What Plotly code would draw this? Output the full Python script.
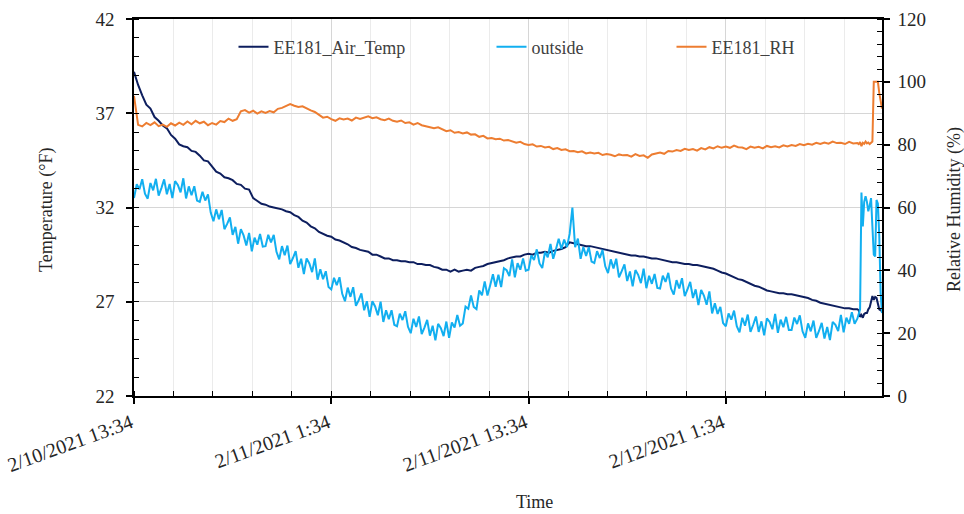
import pandas as pd
import plotly.graph_objects as go

# Logger sample times: 15-minute records, then 5-minute records for the last 1.5 h
times = list(pd.date_range("2021-02-10 13:34", periods=177, freq="15min")) + \
        list(pd.date_range("2021-02-12 09:39", periods=18, freq="5min"))
# Outside sensor: 10-minute records, then 5-minute records for the last 1.5 h
times_out = list(pd.date_range("2021-02-10 13:34", periods=264, freq="10min")) + \
            list(pd.date_range("2021-02-12 09:34", periods=19, freq="5min"))

# EE181 air temperature (°F)
air_temp = [
    39.2, 38.5, 37.95, 37.45, 37.25, 36.8, 36.6, 36.35, 36.2, 35.85, 35.65, 35.35,
    35.25, 35.2, 35.0, 34.95, 34.75, 34.5, 34.45, 34.15, 33.9, 33.8, 33.6, 33.55,
    33.45, 33.25, 33.2, 33.0, 32.95, 32.5, 32.35, 32.2, 32.15, 32.05, 32.0, 31.95,
    31.9, 31.8, 31.75, 31.6, 31.5, 31.3, 31.2, 31.0, 30.9, 30.7, 30.6, 30.5,
    30.45, 30.3, 30.25, 30.15, 30.05, 29.9, 29.85, 29.75, 29.7, 29.65, 29.5, 29.5,
    29.4, 29.3, 29.3, 29.2, 29.2, 29.15, 29.15, 29.1, 29.1, 29.0, 29.0, 28.95,
    28.95, 28.85, 28.8, 28.7, 28.7, 28.6, 28.7, 28.6, 28.65, 28.7, 28.65, 28.8,
    28.85, 28.9, 29.0, 29.05, 29.1, 29.15, 29.2, 29.3, 29.35, 29.4, 29.4, 29.5,
    29.55, 29.5, 29.6, 29.6, 29.65, 29.6, 29.7, 29.75, 29.8, 29.9, 30.15, 30.1,
    30.05, 30.0, 29.95, 29.95, 29.9, 29.85, 29.8, 29.75, 29.7, 29.65, 29.6, 29.55,
    29.5, 29.45, 29.45, 29.4, 29.4, 29.35, 29.3, 29.3, 29.25, 29.2, 29.15, 29.1,
    29.1, 29.05, 29.0, 29.0, 28.95, 28.95, 28.9, 28.85, 28.8, 28.75, 28.65, 28.55,
    28.5, 28.4, 28.3, 28.2, 28.15, 28.05, 27.95, 27.85, 27.8, 27.7, 27.6, 27.55,
    27.5, 27.45, 27.45, 27.4, 27.4, 27.35, 27.3, 27.25, 27.2, 27.1, 27.05, 26.95,
    26.9, 26.85, 26.8, 26.75, 26.7, 26.65, 26.65, 26.6, 26.6,
    26.55, 26.2, 26.3, 26.15, 26.35, 26.4, 26.4, 26.6, 26.7, 27.0, 27.3, 27.1,
    27.25, 27.2, 26.9, 26.6, 26.55, 26.6,
]

# Outside air temperature (°F)
outside = [
    32.5, 33.23, 32.97, 33.5, 32.73, 32.47, 33.3, 32.91, 33.52, 32.63, 33.03, 33.49,
    32.7, 33.25, 32.5, 33.4, 33.2, 32.8, 33.55, 32.48, 33.12, 32.65, 33.13, 32.37,
    32.3, 32.83, 32.37, 32.7, 31.73, 31.27, 31.9, 31.38, 31.87, 30.85, 31.13, 31.47,
    30.55, 30.97, 30.08, 30.85, 30.52, 29.98, 30.65, 29.68, 30.4, 30.03, 30.6, 29.93,
    29.95, 30.55, 30.15, 30.55, 29.65, 29.25, 29.95, 29.47, 29.98, 29.0, 29.32, 29.68,
    28.8, 29.28, 28.47, 29.3, 29.03, 28.57, 29.3, 28.17, 28.73, 28.2, 28.62, 27.78,
    27.65, 28.27, 27.88, 28.3, 27.42, 27.03, 27.75, 27.26, 27.77, 26.78, 27.08, 27.44,
    26.55, 27.03, 26.2, 27.03, 26.75, 26.28, 27.0, 25.93, 26.55, 26.08, 26.55, 25.78,
    25.7, 26.37, 26.03, 26.5, 25.67, 25.33, 26.1, 25.66, 26.22, 25.28, 25.63, 26.04,
    25.2, 25.73, 24.95, 25.83, 25.6, 25.18, 25.95, 25.08, 25.9, 25.63, 26.3, 25.73,
    25.85, 26.74, 26.63, 27.33, 26.72, 26.61, 27.6, 27.34, 28.08, 27.33, 27.87, 28.46,
    27.8, 28.44, 27.78, 28.78, 28.67, 28.36, 29.25, 28.3, 29.05, 28.7, 29.3, 28.65,
    28.7, 29.46, 29.22, 29.78, 29.03, 28.79, 29.65, 29.36, 30.07, 29.28, 29.78, 30.34,
    29.8, 30.3, 29.9, 30.6, 32.0, 29.9, 30.35, 29.28, 29.9, 29.43, 29.9, 29.13,
    29.05, 29.68, 29.32, 29.75, 28.88, 28.52, 29.25, 28.77, 29.28, 28.3, 28.62, 28.98,
    28.1, 28.61, 27.82, 28.68, 28.43, 27.99, 28.75, 27.72, 28.38, 27.95, 28.47, 27.73,
    27.7, 28.38, 28.05, 28.53, 27.7, 27.38, 28.15, 27.7, 28.25, 27.3, 27.65, 28.05,
    27.2, 27.66, 26.82, 27.63, 27.33, 26.84, 27.55, 26.38, 26.92, 26.35, 26.73, 25.87,
    25.7, 26.38, 26.05, 26.53, 25.7, 25.38, 26.15, 25.73, 26.32, 25.4, 25.78, 26.22,
    25.4, 25.96, 25.22, 26.12, 25.93, 25.54, 26.35, 25.35, 26.05, 25.65, 26.2, 25.5,
    25.5, 26.16, 25.82, 26.28, 25.43, 25.09, 25.85, 25.43, 26.0, 25.08, 25.45, 25.88,
    25.05, 25.66, 24.97, 25.93, 25.78, 25.44, 26.3, 25.38, 26.15, 25.83, 26.45, 25.83,
    26.1, 26.3, 26.6, 32.8, 31.0, 32.3, 32.6, 32.3, 31.8, 32.1, 32.5, 31.0,
    29.5, 29.4, 32.4, 32.2, 30.5, 27.5, 26.4,
]

# EE181 relative humidity (%)
rel_humidity = [
    95.5, 86.3, 85.8, 86.9, 86.2, 87.1, 85.9, 86.4, 85.7, 86.8, 86.1, 87.0,
    86.3, 87.4, 86.5, 87.6, 86.8, 87.3, 86.2, 86.9, 86.4, 87.5, 87.2, 88.3,
    87.6, 88.1, 90.6, 91.0, 90.2, 90.8, 89.9, 90.6, 90.1, 90.7, 90.3, 91.4,
    91.7, 92.3, 92.9, 92.4, 92.0, 92.2, 91.5, 90.9, 90.4, 89.5, 88.6, 88.9,
    88.1, 87.6, 88.4, 88.0, 88.3, 87.7, 88.6, 88.2, 88.5, 89.0, 88.4, 88.7,
    88.1, 87.8, 88.3, 87.6, 87.3, 87.7, 86.9, 87.1, 86.4, 86.9, 86.2, 85.9,
    85.6, 85.2, 85.5, 84.8, 84.3, 84.6, 83.8, 84.0, 83.6, 83.9, 83.2, 83.3,
    82.5, 82.8, 82.0, 82.1, 81.7, 81.9, 81.3, 81.5, 81.0, 80.6, 80.9, 80.2,
    79.9, 80.1, 79.4, 79.6, 79.1, 79.3, 78.6, 78.9, 78.3, 78.5, 77.9, 78.0,
    77.6, 77.9, 77.2, 77.5, 77.2, 77.4, 76.7, 77.0, 76.8, 76.3, 76.9, 76.6,
    76.7, 76.2, 77.0, 76.4, 76.6, 75.8, 76.9, 77.1, 77.5, 77.1, 78.0, 77.8,
    78.3, 78.0, 78.7, 78.3, 78.6, 78.1, 78.9, 78.5, 79.2, 78.8, 79.5, 79.0,
    79.4, 79.0, 79.7, 79.2, 79.1, 78.6, 79.4, 79.0, 79.3, 78.8, 79.6, 79.2,
    79.5, 79.1, 79.8, 79.4, 79.9, 79.6, 80.2, 79.8, 80.3, 80.0, 80.6, 80.2,
    80.7, 80.3, 81.0, 80.5, 80.6, 80.2, 80.9, 80.4, 80.5,
    80.2, 80.8, 79.5, 80.6, 80.3, 81.0, 80.4, 80.7, 80.2, 80.6, 81.0, 100.0,
    100.0, 100.0, 100.0, 96.5, 94.5, 91.5,
]

x_range = ["2021-02-10 13:34", "2021-02-12 11:04"]
x_tickvals = ["2021-02-10 13:34", "2021-02-11 01:34", "2021-02-11 13:34", "2021-02-12 01:34"]
x_ticktext = ["2/10/2021 13:34", "2/11/2021 1:34", "2/11/2021 13:34", "2/12/2021 1:34"]

FONT = "Liberation Serif"
TXT = "#262626"

fig = go.Figure()
fig.add_trace(go.Scatter(x=times, y=air_temp, name="EE181_Air_Temp", mode="lines",
                         line=dict(color="#0d1e5e", width=2), legend="legend"))
fig.add_trace(go.Scatter(x=times_out, y=outside, name="outside", mode="lines",
                         line=dict(color="#12aff0", width=2), legend="legend2"))
fig.add_trace(go.Scatter(x=times, y=rel_humidity, name="EE181_RH", mode="lines",
                         line=dict(color="#ed7d31", width=2), yaxis="y2", legend="legend3"))

W, H = 964, 514
L, R, T, B = 134, 82, 19, 118
pw, ph = W - L - R, H - T - B


def px_x(p):
    return (p - L) / pw


def px_y(p):
    return 1 - (p - T) / ph


leg_common = dict(orientation="h", yanchor="middle", xanchor="left",
                  bgcolor="rgba(0,0,0,0)", itemwidth=30,
                  font=dict(family=FONT, size=18, color="#404040"))

title_font = dict(family=FONT, size=18, color=TXT)

fig.update_layout(
    width=W, height=H,
    margin=dict(l=L, r=R, t=T, b=B, autoexpand=False),
    paper_bgcolor="white", plot_bgcolor="white",
    font=dict(family=FONT, color=TXT),
    xaxis=dict(
        type="date", range=x_range, automargin=False,
        tickmode="array", tickvals=x_tickvals, ticktext=x_ticktext,
        tickangle=-20, tickfont=dict(family=FONT, size=20, color=TXT),
        ticklabelshift=-3,
        ticks="outside", ticklen=6, tickcolor="black", tickwidth=1.5,
        showline=True, linecolor="black", linewidth=1.5, mirror=True,
        showgrid=True, gridcolor="#d6d6d6", gridwidth=1.2,
        minor=dict(tick0=x_range[0], dtick=8640000, ticks="inside", ticklen=5,
                   tickcolor="black", tickwidth=1.2,
                   showgrid=True, gridcolor="#ebebeb", gridwidth=1),
        zeroline=False,
    ),
    yaxis=dict(
        range=[22, 42], tick0=22, dtick=5, automargin=False,
        tickfont=dict(family=FONT, size=19, color=TXT),
        ticks="outside", ticklen=6, tickcolor="black", tickwidth=1.5,
        ticklabelstandoff=8,
        showline=True, linecolor="black", linewidth=1.5,
        showgrid=True, gridcolor="#d6d6d6", gridwidth=1.2,
        minor=dict(tick0=22, dtick=1, ticks="inside", ticklen=5,
                   tickcolor="black", tickwidth=1.2, showgrid=False),
        zeroline=False,
    ),
    yaxis2=dict(
        range=[0, 120], tick0=0, dtick=20, overlaying="y", side="right",
        automargin=False,
        tickfont=dict(family=FONT, size=19, color=TXT),
        ticks="outside", ticklen=6, tickcolor="black", tickwidth=1.5,
        ticklabelstandoff=4,
        showline=True, linecolor="black", linewidth=1.5,
        showgrid=False,
        minor=dict(tick0=0, dtick=4, ticks="inside", ticklen=5,
                   tickcolor="black", tickwidth=1.2, showgrid=False),
        zeroline=False,
    ),
    legend=dict(x=px_x(233.5), y=px_y(47), **leg_common),
    legend2=dict(x=px_x(491.5), y=px_y(47), **leg_common),
    legend3=dict(x=px_x(671.5), y=px_y(47), **leg_common),
    showlegend=True,
    annotations=[
        dict(text="Temperature (°F)", textangle=-90, x=px_x(47), y=px_y(210),
             xref="paper", yref="paper", xanchor="center", yanchor="middle",
             showarrow=False, font=title_font),
        dict(text="Relative Humidity (%)", textangle=-90, x=px_x(955), y=px_y(210),
             xref="paper", yref="paper", xanchor="center", yanchor="middle",
             showarrow=False, font=title_font),
        dict(text="Time", x=px_x(534), y=px_y(502),
             xref="paper", yref="paper", xanchor="center", yanchor="middle",
             showarrow=False, font=title_font),
    ],
)

fig.write_html("out.html")
